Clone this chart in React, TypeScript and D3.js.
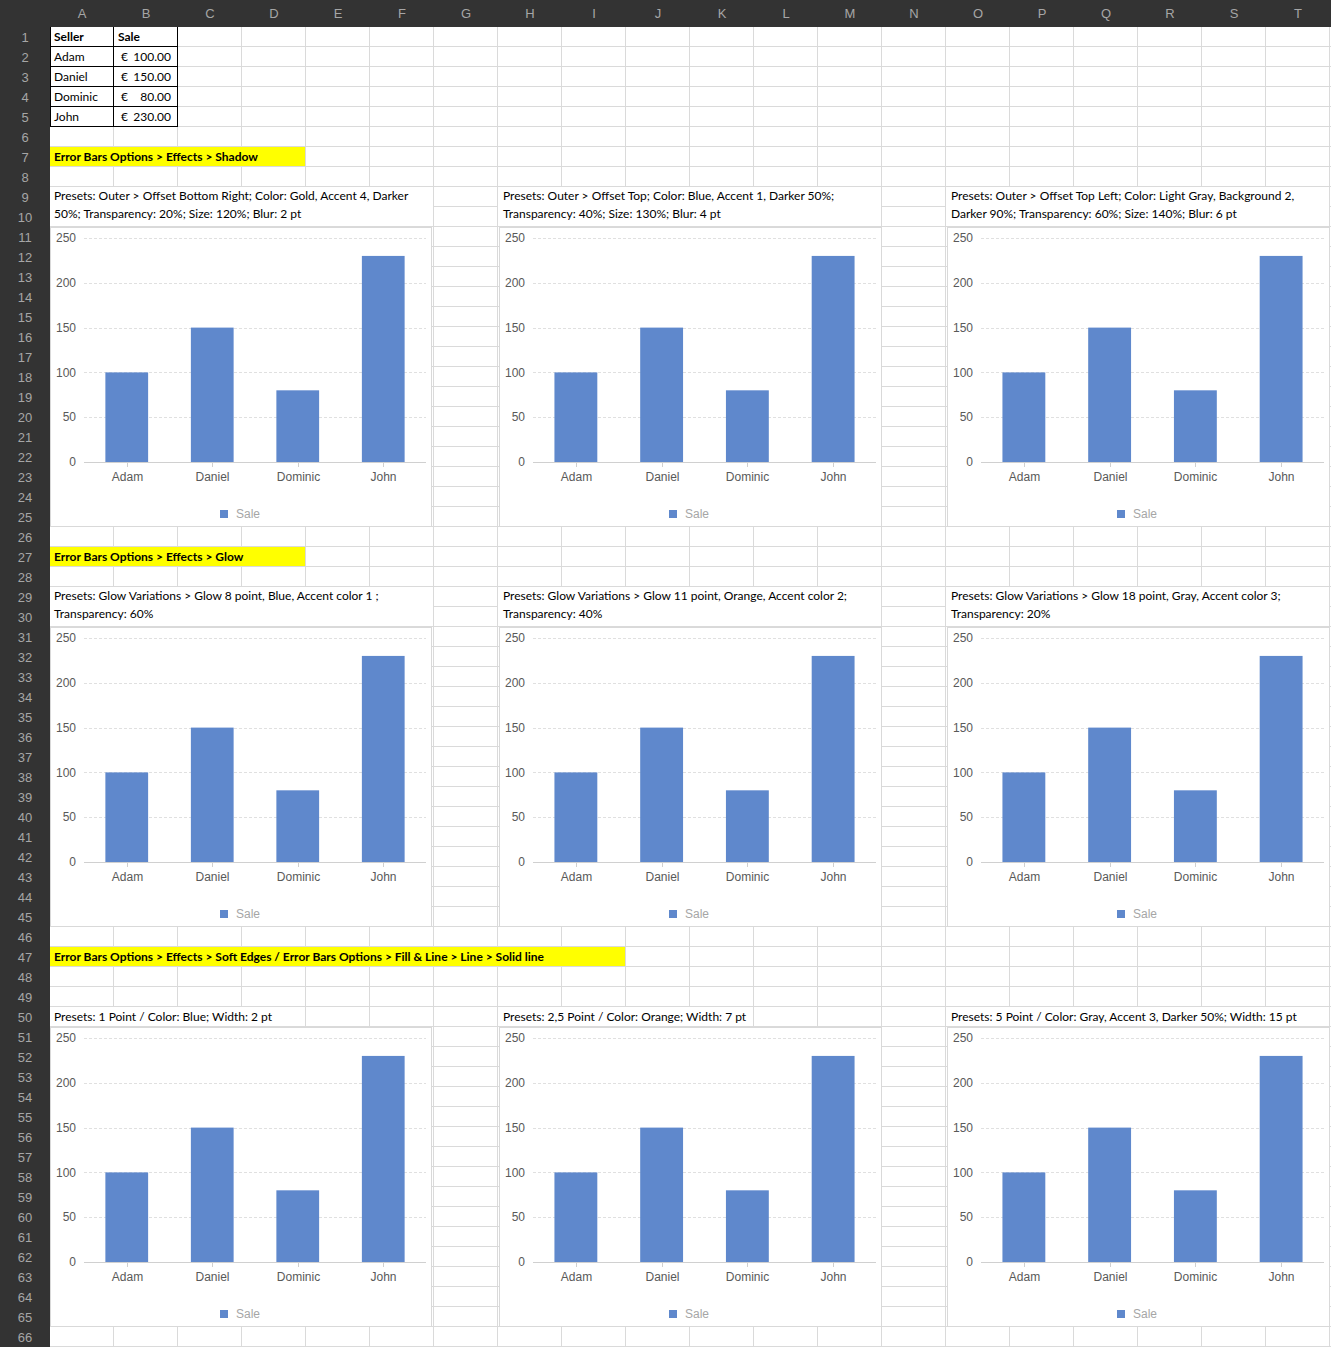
import * as d3 from "d3";

const sellers = ["Adam", "Daniel", "Dominic", "John"];
const sales = [100, 150, 80, 230];
const saleLabels = ["100.00", "150.00", "80.00", "230.00"];
const yTicks = [0, 50, 100, 150, 200, 250];
const columnNames = "ABCDEFGHIJKLMNOPQRST".split("");
const rowCount = 66;

const sectionTitles = [
  "Error Bars Options > Effects > Shadow",
  "Error Bars Options > Effects > Glow",
  "Error Bars Options > Effects > Soft Edges / Error Bars Options > Fill & Line > Line > Solid line",
];
const sectionTitleRows = [7, 27, 47];
const sectionTitleSpans = [4, 4, 9];

const captions = [
  [
    ["Presets: Outer > Offset Bottom Right; Color: Gold, Accent 4, Darker", "50%; Transparency: 20%; Size: 120%; Blur: 2 pt"],
    ["Presets: Outer > Offset Top; Color: Blue, Accent 1, Darker 50%;", "Transparency: 40%; Size: 130%; Blur: 4 pt"],
    ["Presets: Outer > Offset Top Left; Color: Light Gray, Background 2,", "Darker 90%; Transparency: 60%; Size: 140%; Blur: 6 pt"],
  ],
  [
    ["Presets: Glow Variations > Glow 8 point, Blue, Accent color 1 ;", "Transparency: 60%"],
    ["Presets: Glow Variations > Glow 11 point, Orange, Accent color 2;", "Transparency: 40%"],
    ["Presets: Glow Variations > Glow 18 point, Gray, Accent color 3;", "Transparency: 20%"],
  ],
  [
    ["Presets: 1 Point / Color: Blue; Width: 2 pt"],
    ["Presets: 2,5 Point / Color: Orange; Width: 7 pt"],
    ["Presets: 5 Point / Color: Gray, Accent 3, Darker 50%; Width: 15 pt"],
  ],
];
// columns covered by the overflowing one-line captions
const overflowSpans = [4, 4, 6];

const chartRows = [11, 31, 51];
const chartCols = [0, 7, 14];

const W = 1331;
const H = 1347;
const HEAD_H = 27;
const ROWHEAD_W = 50;
const ROW_H = 20;
const COL_W = 64;
const GRID = "#dadada";
const BAR = "#5f88cc";
const SHEET_FONT = "Lato, 'Open Sans', sans-serif";
const CHART_FONT = "'Liberation Sans', Arial, sans-serif";

const rowTop = (r: number) => HEAD_H + (r - 1) * ROW_H;
const colLeft = (c: number) => ROWHEAD_W + c * COL_W;

function BarChart({ left, top, width }: { left: number; top: number; width: number }) {
  const height = 300;
  const x = d3.scaleBand().domain(sellers).range([34, width - 6]).paddingInner(0.5).paddingOuter(0.25);
  const y = d3.scaleLinear().domain([0, 250]).range([235, 11]);
  return (
    <g transform={`translate(${left},${top})`}>
      <rect x={0.5} y={0.5} width={width - 1} height={height - 1} fill="#fff" stroke="#d9d9d9" />
      {yTicks.slice(1).map((t) => (
        <line key={t} x1={34} x2={width - 6} y1={Math.round(y(t)) + 0.5} y2={Math.round(y(t)) + 0.5}
          stroke="#e0e0e0" strokeDasharray="3,2" />
      ))}
      {yTicks.map((t) => (
        <text key={t} x={26} y={y(t)} dy="0.35em" textAnchor="end" fontSize={12}
          fontFamily={CHART_FONT} fill="#595959">{t}</text>
      ))}
      {sales.map((v, i) => (
        <rect key={sellers[i]} x={x(sellers[i])} y={y(v)} width={x.bandwidth()} height={y(0) - y(v)} fill={BAR} />
      ))}
      <line x1={34} x2={width - 6} y1={235.5} y2={235.5} stroke="#d0d0d0" />
      {sellers.map((s) => {
        const cx = Math.round((x(s) as number) + x.bandwidth() / 2) + 0.5;
        return (
          <g key={s}>
            <line x1={cx} x2={cx} y1={236} y2={240} stroke="#d0d0d0" />
            <text x={cx} y={250} dy="0.35em" textAnchor="middle" fontSize={12}
              fontFamily={CHART_FONT} fill="#595959">{s}</text>
          </g>
        );
      })}
      <rect x={170} y={283} width={8} height={8} fill={BAR} />
      <text x={186} y={287} dy="0.35em" fontSize={12} fontFamily={CHART_FONT} fill="#a6a6a6">Sale</text>
    </g>
  );
}

export default function App() {
  const rows = d3.range(1, rowCount + 1);
  return (
    <svg width={W} height={H} style={{ position: "absolute", left: 0, top: 0 }}>
      <rect width={W} height={H} fill="#fff" />
      {/* sheet gridlines */}
      {rows.map((r) => (
        <line key={"h" + r} x1={ROWHEAD_W} x2={W} y1={rowTop(r) + ROW_H - 0.5} y2={rowTop(r) + ROW_H - 0.5} stroke={GRID} />
      ))}
      {columnNames.map((c, i) => (
        <line key={"v" + c} x1={colLeft(i + 1) - 0.5} x2={colLeft(i + 1) - 0.5} y1={HEAD_H} y2={H} stroke={GRID} />
      ))}

      {/* data table */}
      <g fontFamily={SHEET_FONT} fontSize={12} fill="#000">
        <text x={54} y={rowTop(1) + 10} dy="0.35em" fontWeight="bold">Seller</text>
        <text x={118} y={rowTop(1) + 10} dy="0.35em" fontWeight="bold">Sale</text>
        {sellers.map((s, i) => (
          <g key={s}>
            <text x={54} y={rowTop(i + 2) + 10} dy="0.35em">{s}</text>
            <text x={121} y={rowTop(i + 2) + 10} dy="0.35em">€</text>
            <text x={171} y={rowTop(i + 2) + 10} dy="0.35em" textAnchor="end">{saleLabels[i]}</text>
          </g>
        ))}
      </g>
      <g stroke="#000" fill="none">
        {d3.range(1, 6).map((r) => (
          <line key={r} x1={colLeft(0)} x2={colLeft(2)} y1={rowTop(r) + ROW_H - 0.5} y2={rowTop(r) + ROW_H - 0.5} />
        ))}
        {[0, 1, 2].map((c) => (
          <line key={c} x1={colLeft(c) - 0.5 + (c === 0 ? 1 : 0)} x2={colLeft(c) - 0.5 + (c === 0 ? 1 : 0)}
            y1={rowTop(1)} y2={rowTop(6)} />
        ))}
      </g>

      {/* section titles */}
      {sectionTitles.map((t, i) => (
        <g key={t}>
          <rect x={colLeft(0)} y={rowTop(sectionTitleRows[i])} width={sectionTitleSpans[i] * COL_W - 1}
            height={ROW_H - 1} fill="#ffff00" />
          <text x={54} y={rowTop(sectionTitleRows[i]) + 10} dy="0.35em" fontFamily={SHEET_FONT}
            fontSize={12} fontWeight="bold">{t}</text>
        </g>
      ))}

      {/* captions and charts */}
      {chartRows.map((cr, si) =>
        chartCols.map((cc, ci) => {
          const lines = captions[si][ci];
          const merged = lines.length > 1;
          const capTop = merged ? rowTop(cr - 2) : rowTop(cr - 1);
          const capW = merged ? 6 * COL_W - 1 : overflowSpans[ci] * COL_W - 1;
          const capH = merged ? 2 * ROW_H - 1 : ROW_H - 1;
          const shift = cc > 0 ? 1 : 0;
          return (
            <g key={`${si}-${ci}`}>
              <rect x={colLeft(cc)} y={capTop} width={capW} height={capH} fill="#fff" />
              {lines.map((l, li) => (
                <text key={li} x={colLeft(cc) + 4 + shift} y={capTop + (merged ? 9 + li * 18 : 10)} dy="0.35em"
                  fontFamily={SHEET_FONT} fontSize={12} fill="#000">{l}</text>
              ))}
              <BarChart left={colLeft(cc) + shift} top={rowTop(cr)} width={cc > 0 ? 383 : 382} />
            </g>
          );
        })
      )}

      {/* headers */}
      <rect x={0} y={0} width={W} height={HEAD_H} fill="#333333" />
      <rect x={0} y={0} width={ROWHEAD_W} height={H} fill="#333333" />
      {columnNames.map((c, i) => (
        <text key={c} x={colLeft(i) + COL_W / 2} y={13} dy="0.35em" textAnchor="middle"
          fontFamily={CHART_FONT} fontSize={13} fill="#a6a6a6">{c}</text>
      ))}
      {rows.map((r) => (
        <text key={r} x={25} y={rowTop(r) + 10} dy="0.35em" textAnchor="middle"
          fontFamily={CHART_FONT} fontSize={13} fill="#a6a6a6">{r}</text>
      ))}
    </svg>
  );
}
